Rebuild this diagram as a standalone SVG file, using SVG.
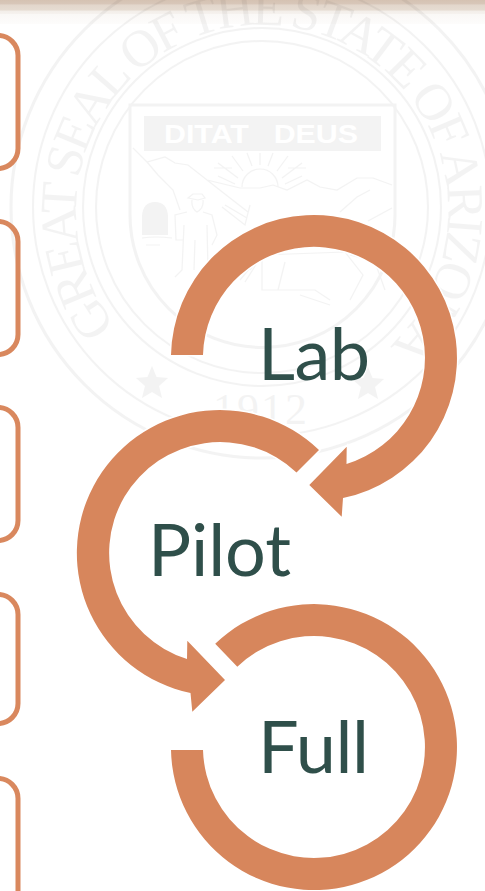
<svg xmlns="http://www.w3.org/2000/svg" width="485" height="891" viewBox="0 0 485 891">
<style>
.seal{fill:none;stroke:#000;stroke-width:2}
.fine{fill:none;stroke:#000;stroke-width:1.200}
.solid{fill:#000}
.sealt{fill:#000;font-family:"Liberation Serif",serif;font-size:52px}
.ring{fill:#d7865c;stroke:#fff;stroke-width:3;paint-order:stroke}
.lbl{fill:#2f4f4a;font-family:"Lato",sans-serif;font-size:72px}
.box{fill:none;stroke:#d9885e;stroke-width:5}
</style>
<defs>
<linearGradient id="band" x1="0" y1="0" x2="0" y2="1">
<stop offset="0" stop-color="#d5c2b2"/><stop offset=".17" stop-color="#d8c7b9"/><stop offset=".2" stop-color="#e2d6cb"/><stop offset=".42" stop-color="#e6dcd2"/><stop offset=".46" stop-color="#f3eee9"/><stop offset=".56" stop-color="#f5f1ed"/><stop offset=".6" stop-color="#faf8f6"/><stop offset="1" stop-color="#fdfcfb"/>
</linearGradient>
<path id="sealarc" d="M116 326A186 186 0 1 1 395 341"/>
</defs>
<rect width="485" height="891" fill="#fff"/>
<rect id="band-top" width="485" height="24" fill="url(#band)"/>
<g id="seal" opacity=".045">
<circle class="seal" style="stroke-width:3" cx="262" cy="207" r="251"/>
<circle class="seal" cx="262" cy="207" r="229"/>
<circle class="seal" cx="262" cy="207" r="179"/>
<circle class="seal" cx="262" cy="207" r="166"/>
<path class="seal" style="stroke-width:3" d="M130 105H395V215A132.500 132.500 0 0 1 130 215Z"/>
<rect class="solid" x="144" y="116" width="237" height="35"/>
<text x="164" y="143" style="fill:#fff;font:bold 26px 'Liberation Sans',sans-serif;word-spacing:14px" textLength="194" lengthAdjust="spacingAndGlyphs">DITAT DEUS</text>
<path class="fine" d="M133 148L147 162L165 157L175 163L188 165L207 180L240 188L260 188L273 185L287 190L307 180L320 187L337 190L357 178L373 178L392 185M147 162L158 175L173 190L180 210M207 180L230 198L248 212M340 212L357 197L370 190M368 221L392 208"/>
<path class="fine" d="M242 187A18 18 0 0 1 278 187M260 165V153M252 166L247 153M268 166L273 153M243 171L232 156M277 171L288 156M238 178L218 163M282 178L302 163M235 184L218 176M285 184L302 176M232 168H214M288 168H306"/>
<path class="solid" d="M142 235V216Q143 202 155 202Q167 202 168 216V235Z"/>
<path class="fine" d="M142 238Q155 236 172 238M146 245H160M188 198L193 194L202 194L205 198L198 200ZM192 200Q191 208 197 212Q204 208 203 200M187 212L175 215L176 240L183 240M203 212L212 215L217 235L212 245M184 225L182 270L175 277M207 225L208 270L215 277M195 240L194 270M222 207L245 225L250 205M225 205L247 218"/>
<path class="fine" d="M262 255L345 252L363 275L350 300M250 270L262 255L262 290L315 290L330 300M245 282L262 255M255 262L240 280M285 262L278 290M350 255L375 262L385 290M300 295L330 305"/>
<text class="sealt"><textPath href="#sealarc" textLength="860" lengthAdjust="spacing">GREAT SEAL OF THE STATE OF ARIZONA</textPath></text>
<text x="213" y="424" style="fill:#000;font:44px 'Liberation Serif',serif" textLength="94">1912</text>
<path class="solid" d="M152 366l4.500 11 11.500 1-9 8 3 12-10-6-10 6 3-12-9-8 11.500-1z"/>
<path class="solid" d="M368 367l4.500 11 11.500 1-9 8 3 12-10-6-10 6 3-12-9-8 11.500-1z"/>
</g>
<g id="box1"><rect class="box" x="-60" y="35.500" width="78" height="133" rx="20"/></g>
<g id="box2"><rect class="box" x="-60" y="221.500" width="78" height="133" rx="20"/></g>
<g id="box3"><rect class="box" x="-60" y="407.500" width="78" height="133" rx="20"/></g>
<g id="box4"><rect class="box" x="-60" y="594.500" width="78" height="129" rx="20"/></g>
<g id="box5"><rect class="box" x="-60" y="778.500" width="78" height="160" rx="20"/></g>
<g id="connectors">
<path id="arc-lab" class="ring" d="M171 355A143 143 0 1 1 343 498L341.700 516.700L309.300 485L346.700 446.700L346.500 464A111 111 0 1 0 203 355Z"/>
<path id="arc-pilot" class="ring" d="M319 450A143 143 0 1 0 190.500 693L192.300 711.700L225 680L187.300 640.700L187 659A111 111 0 1 1 296.500 472.500Z"/>
<path id="arc-full" class="ring" d="M215.200 643.700A143 143 0 1 1 171 750L203 750A111 111 0 1 0 237.300 666.700Z"/>
</g>
<g id="lab"><text class="lbl" x="258" y="380" textLength="112">Lab</text></g>
<g id="pilot"><text class="lbl" x="148" y="576" textLength="143">Pilot</text></g>
<g id="full"><text class="lbl" x="258" y="773" textLength="111">Full</text></g>
</svg>
